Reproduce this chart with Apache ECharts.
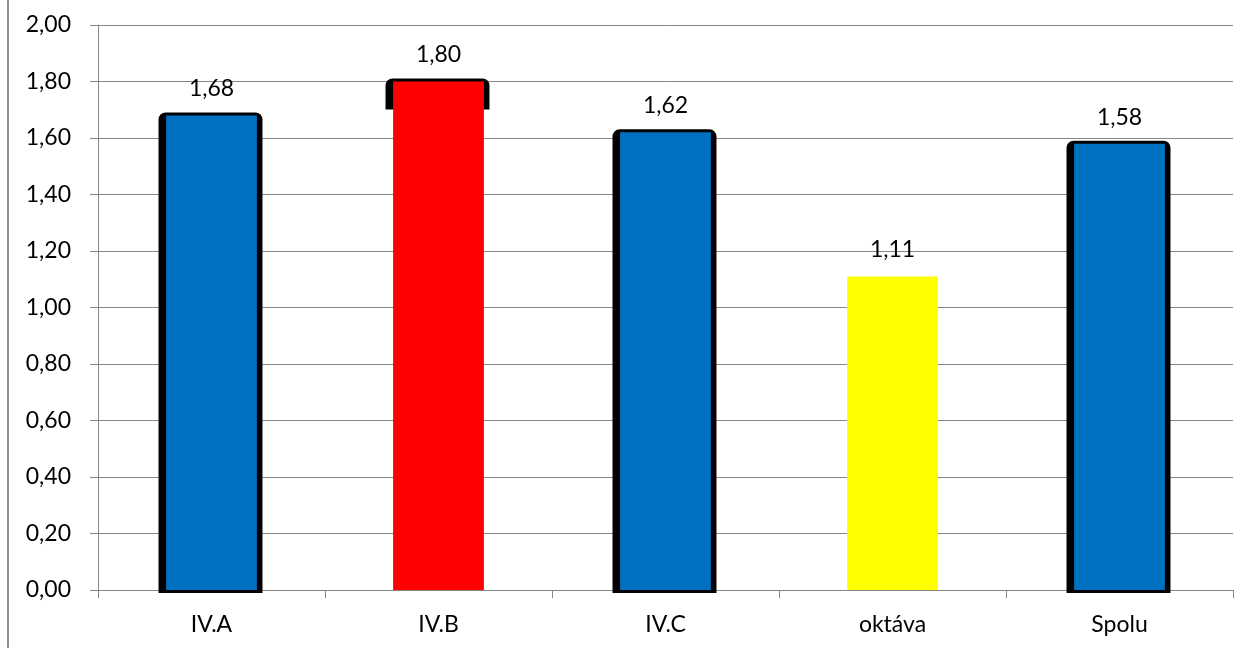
<!DOCTYPE html>
<html>
<head>
<meta charset="utf-8">
<script src="https://cdn.jsdelivr.net/npm/echarts@6/dist/echarts.min.js"></script>
<style>
html,body{margin:0;padding:0;background:#fff;}
#chart{width:1248px;height:648px;}
</style>
</head>
<body>
<div id="chart"></div>
<script>
const categories = ['IV.A', 'IV.B', 'IV.C', 'oktáva', 'Spolu'];
const values = [1.68, 1.80, 1.62, 1.11, 1.58];
const yTicks = [0, 0.2, 0.4, 0.6, 0.8, 1.0, 1.2, 1.4, 1.6, 1.8, 2.0];

const barColors = ['#0070C0', '#FF0000', '#0070C0', '#FFFF00', '#0070C0'];
const frameKind = ['full', 'top', 'full', 'none', 'full'];

const fmt = v => v.toFixed(2).replace('.', ',');
const FONT = 'Lato';

const chart = echarts.init(document.getElementById('chart'));
chart.setOption({
  animation: false,
  backgroundColor: '#fff',
  grid: { left: 98, right: 15, top: 25, bottom: 58, containLabel: false },
  graphic: [{
    type: 'line', shape: { x1: 8, y1: 0, x2: 8, y2: 648 },
    style: { stroke: '#8c8c8c', lineWidth: 2 }, silent: true
  }],
  xAxis: {
    type: 'category',
    data: categories,
    boundaryGap: true,
    axisLine: { lineStyle: { color: '#868686', width: 1 } },
    axisTick: { show: true, length: 8, inside: false, lineStyle: { color: '#868686' } },
    axisLabel: { color: '#000', fontFamily: FONT, fontSize: 23, margin: 23 },
    splitLine: { show: false }
  },
  yAxis: {
    type: 'value',
    min: 0, max: 2, interval: 0.2,
    axisLine: { show: true, lineStyle: { color: '#868686', width: 1 } },
    axisTick: { show: true, length: 8, lineStyle: { color: '#868686' } },
    axisLabel: { color: '#000', fontFamily: FONT, fontSize: 23, margin: 27,
      formatter: v => fmt(v) },
    splitLine: { show: true, lineStyle: { color: '#868686', width: 1 } }
  },
  series: [
    {
      type: 'custom',
      z: 1,
      silent: true,
      data: values.map((v, i) => [i, v]),
      renderItem: function (params, api) {
        const i = api.value(0);
        const kind = frameKind[i];
        if (kind === 'none') return null;
        const top = api.coord([i, api.value(1)]);
        const base = api.coord([i, 0]);
        const band = api.size([1, 0])[0];
        const w = band * 0.458;
        const y = top[1] - 3;
        const h = kind === 'top' ? 31 : (base[1] + 3 - y);
        return {
          type: 'rect',
          shape: { x: top[0] - w / 2 - 1, y: y, width: w, height: h, r: [7, 7, 0, 0] },
          style: { fill: '#000' }
        };
      }
    },
    {
      type: 'bar',
      z: 2,
      barWidth: '40%',
      data: values.map((v, i) => ({ value: v, itemStyle: { color: barColors[i] } })),
      label: {
        show: true, position: 'top', distance: 15,
        color: '#000', fontFamily: FONT, fontSize: 23,
        formatter: p => fmt(p.value)
      }
    }
  ]
});
</script>
</body>
</html>
